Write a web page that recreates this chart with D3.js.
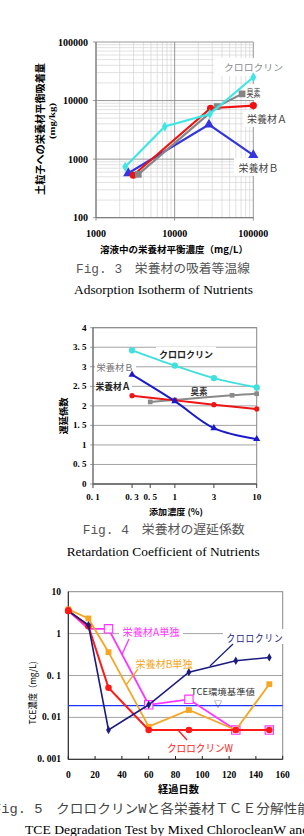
<!DOCTYPE html>
<html><head><meta charset="utf-8">
<script src="https://cdn.jsdelivr.net/npm/d3@7"></script>
<style>
body{margin:0;background:#fff;overflow:hidden;}
svg{display:block;}
</style></head><body>
<svg id="c" width="304" height="836"></svg>
<script>
// ---------------- Fig. 3 data ----------------
const f3Names = ["栄養材Ｂ", "栄養材Ａ", "臭素", "クロロクリン"];
const f3BX = [2570, 27300, 100000];
const f3BY = [575, 3900, 1170];
const f3AX = [2980, 28600, 100000];
const f3AY = [530, 7400, 8200];
const f3BromX = [3450, 34700, 72000];
const f3BromY = [550, 7900, 13000];
const f3ChloroX = [2350, 7500, 28000, 100000];
const f3ChloroY = [740, 3600, 5900, 25000];
const f3XTicks = [1000, 10000, 100000];
const f3YTicks = [100, 1000, 10000, 100000];

// ---------------- Fig. 4 data ----------------
const f4Names = ["クロロクリン", "栄養材Ｂ", "栄養材Ａ", "臭素"];
const f4X = [0.3, 1, 3, 10];
const f4Chloro = [3.42, 3.03, 2.71, 2.47];
const f4B = [2.80, 2.12, 1.43, 1.15];
const f4A = [2.26, 2.14, 2.03, 1.92];
const f4BromX = [0.5, 1, 5, 10];
const f4Brom = [2.10, 2.15, 2.27, 2.31];
const f4XTicks = [0.1, 0.3, 0.5, 1, 3, 10];
const f4XTickLabels = ["0. 1", "0. 3", "0. 5", "1", "3", "10"];
const f4YTicks = [0, 0.5, 1, 1.5, 2, 2.5, 3, 3.5, 4];
const f4YTickLabels = ["0", "0. 5", "1", "1. 5", "2", "2. 5", "3", "3. 5", "4"];

// ---------------- Fig. 5 data ----------------
const f5Names = ["栄養材A単独", "栄養材B単独", "クロロクリン", "クロロクリンW", "TCE環境基準値"];
const f5Days = [0, 15, 30, 60, 90, 125, 150];
const f5A = [3.5, 1.3, 1.3, 0.02, 0.027, 0.005, 0.005];
const f5B = [3.8, 2.3, 0.36, 0.006, 0.015, 0.005, 0.062];
const f5ChloroW = [3.5, 1.5, 0.051, 0.005, 0.005, 0.005, 0.005];
const f5Chloro = [3.5, 1.6, 0.005, 0.02, 0.12, 0.225, 0.27];
const f5Standard = 0.019;
const f5XTicks = [0, 20, 40, 60, 80, 100, 120, 140, 160];
const f5YTicks = [0.001, 0.01, 0.1, 1, 10];
const f5YTickLabels = ["0. 001", "0. 01", "0. 1", "1", "10"];

const svg = d3.select("#c");
const serif = "'Liberation Serif','Noto Sans CJK JP',serif";
const jp = "'Noto Sans CJK JP',sans-serif";
const mono = "'Liberation Mono','Noto Sans CJK JP',monospace";
const zip = (a, b) => a.map((v, i) => [v, b[i]]);

function txt(g, x, y, s, o = {}) {
  const t = g.append("text").attr("x", x).attr("y", y).text(s)
    .attr("font-family", o.ff || jp).attr("font-size", o.fs || 10)
    .attr("font-weight", o.fw || "normal").attr("fill", o.fill || "#000")
    .attr("text-anchor", o.anchor || "start").attr("dominant-baseline", "central");
  if (o.tl) t.attr("textLength", o.tl).attr("lengthAdjust", "spacingAndGlyphs");
  if (o.ls) t.attr("letter-spacing", o.ls);
  if (o.rot) t.attr("transform", `rotate(${o.rot},${x},${y})`);
  return t;
}
function bgLabel(g, x, y, w, h) {
  g.append("rect").attr("x", x).attr("y", y).attr("width", w).attr("height", h).attr("fill", "#fff");
}

// =============== Fig. 3 ===============
{
  const g = svg.append("g");
  const x = d3.scaleLog().domain([1000, 100000]).range([96, 253.3]);
  const y = d3.scaleLog().domain([100, 100000]).range([217.7, 42]);
  const xt = x.ticks(), yt = y.ticks();
  const minorX = xt.filter(d => !f3XTicks.includes(d)), minorY = yt.filter(d => !f3YTicks.includes(d));
  g.selectAll(".mx").data(minorX).join("line").attr("x1", d => x(d)).attr("x2", d => x(d))
    .attr("y1", y.range()[1]).attr("y2", y.range()[0]).attr("stroke", "#d4d4d4").attr("stroke-width", 0.7);
  g.selectAll(".my").data(minorY).join("line").attr("y1", d => y(d)).attr("y2", d => y(d))
    .attr("x1", x.range()[0]).attr("x2", x.range()[1]).attr("stroke", "#d4d4d4").attr("stroke-width", 0.7);
  g.selectAll(".Mx").data(f3XTicks).join("line").attr("x1", d => x(d)).attr("x2", d => x(d))
    .attr("y1", y.range()[1]).attr("y2", y.range()[0] + 3).attr("stroke", "#8c8c8c").attr("stroke-width", 0.9);
  g.selectAll(".My").data(f3YTicks).join("line").attr("y1", d => y(d)).attr("y2", d => y(d))
    .attr("x1", x.range()[0] - 3).attr("x2", x.range()[1]).attr("stroke", "#8c8c8c").attr("stroke-width", 0.9);
  g.append("line").attr("x1", 96).attr("x2", 96).attr("y1", 42).attr("y2", 217.7).attr("stroke", "#777");
  g.append("line").attr("x1", 96).attr("x2", 253.3).attr("y1", 217.7).attr("y2", 217.7).attr("stroke", "#777");

  // white boxes for labels (cover grid)
  bgLabel(g, 214, 58, 78, 18);
  bgLabel(g, 244, 84, 22, 16);
  bgLabel(g, 243, 110, 48, 17);
  bgLabel(g, 234, 158, 50, 18);

  const line = d3.line().x(d => x(d[0])).y(d => y(d[1]));
  const series = [
    { d: zip(f3BX, f3BY), c: "#3535dd", sym: d3.symbolTriangle, sz: 45 },
    { d: zip(f3AX, f3AY), c: "#ee1111", sym: d3.symbolCircle, sz: 40 },
    { d: zip(f3BromX, f3BromY), c: "#858585", sym: d3.symbolSquare, sz: 45 },
    { d: zip(f3ChloroX, f3ChloroY), c: "#40e6e6", sym: d3.symbolDiamond, sz: 30 }
  ];
  series.forEach(s => {
    g.append("path").attr("d", line(s.d)).attr("fill", "none").attr("stroke", s.c).attr("stroke-width", 2.2);
    g.selectAll(null).data(s.d).join("path").attr("d", d3.symbol().type(s.sym).size(s.sz))
      .attr("transform", d => `translate(${x(d[0])},${y(d[1])})`).attr("fill", s.c);
  });

  // tick labels
  f3YTicks.forEach(v => txt(g, 88, y(v), String(v), { ff: serif, fs: 10, fw: "bold", anchor: "end" }));
  f3XTicks.forEach(v => txt(g, x(v), 233, String(v), { ff: serif, fs: 10, fw: "bold", anchor: "middle" }));
  txt(g, 174, 249, "溶液中の栄養材平衡濃度（mg/L）", { fs: 9.5, fw: "bold", anchor: "middle", tl: 148 });
  txt(g, 39, 129, "土粒子への栄養材平衡吸着量", { fs: 10, fw: "bold", anchor: "middle", rot: -90, tl: 132 });
  txt(g, 52, 121, "(mg/kg)", { ff: serif, fs: 9, fw: "bold", anchor: "middle", rot: -90, tl: 36 });

  // series labels
  txt(g, 253.5, 67, f3Names[3], { fs: 9, fill: "#8a8a8a", anchor: "middle", tl: 59 });
  txt(g, 253.5, 92, f3Names[2], { fs: 10, fill: "#444", anchor: "middle", tl: 14 });
  txt(g, 267, 118.5, f3Names[1], { fs: 10, fill: "#444", anchor: "middle", tl: 40 });
  txt(g, 258.5, 167, f3Names[0], { fs: 10, fill: "#444", anchor: "middle", tl: 40 });

  txt(g, 76, 269.5, "Fig. 3　栄養材の吸着等温線", { ff: mono, fs: 12.5, fill: "#555", tl: 174 });
  txt(g, 74, 289.5, "Adsorption Isotherm of Nutrients", { ff: serif, fs: 13, tl: 179 });
}

// =============== Fig. 4 ===============
{
  const g = svg.append("g");
  const x = d3.scaleLog().domain([0.1, 10]).range([93, 256.7]);
  const y = d3.scaleLinear().domain([0, 4]).range([484, 327.7]);
  g.selectAll(".gy").data(f4YTicks).join("line").attr("y1", d => y(d)).attr("y2", d => y(d))
    .attr("x1", 90).attr("x2", 256.7).attr("stroke", "#999").attr("stroke-width", 0.9);
  g.append("rect").attr("x", 93).attr("y", 327.7).attr("width", 163.7).attr("height", 156.3)
    .attr("fill", "none").attr("stroke", "#888").attr("stroke-width", 1);
  g.append("line").attr("x1", 93).attr("x2", 256.7).attr("y1", 484).attr("y2", 484).attr("stroke", "#444");
  g.append("line").attr("x1", 93).attr("x2", 93).attr("y1", 327.7).attr("y2", 484).attr("stroke", "#666");
  g.selectAll(".tx").data(f4XTicks).join("line").attr("x1", d => x(d)).attr("x2", d => x(d))
    .attr("y1", 484).attr("y2", 488).attr("stroke", "#444");

  bgLabel(g, 95, 359, 41, 15);
  bgLabel(g, 95, 379, 37, 14);
  bgLabel(g, 156, 347, 60, 14);

  const line = d3.line().x(d => x(d[0])).y(d => y(d[1])).curve(d3.curveCatmullRom);
  const series = [
    { d: zip(f4BromX, f4Brom), c: "#8a8a8a", sym: d3.symbolSquare, sz: 22 },
    { d: zip(f4X, f4A), c: "#ee1515", sym: d3.symbolCircle, sz: 22 },
    { d: zip(f4X, f4B), c: "#1a1acc", sym: d3.symbolTriangle, sz: 22 },
    { d: zip(f4X, f4Chloro), c: "#40e0dc", sym: d3.symbolCircle, sz: 32 }
  ];
  series.forEach(s => {
    g.append("path").attr("d", line(s.d)).attr("fill", "none").attr("stroke", s.c).attr("stroke-width", 2);
    g.selectAll(null).data(s.d).join("path").attr("d", d3.symbol().type(s.sym).size(s.sz))
      .attr("transform", d => `translate(${x(d[0])},${y(d[1])})`).attr("fill", s.c);
  });

  f4YTicks.forEach((v, i) => txt(g, 86.5, y(v), f4YTickLabels[i], { ff: serif, fs: 9, fw: "bold", anchor: "end" }));
  f4XTicks.forEach((v, i) => txt(g, x(v), 497, f4XTickLabels[i], { ff: serif, fs: 9, fw: "bold", anchor: "middle" }));
  txt(g, 63, 416, "遅延係数", { fs: 9.5, fw: "bold", anchor: "middle", rot: -90, tl: 37 });
  txt(g, 176, 511, "添加濃度 (%)", { fs: 8.5, fw: "bold", anchor: "middle", tl: 54 });

  txt(g, 186, 354, f4Names[0], { fs: 9, fw: "bold", fill: "#222", anchor: "middle", tl: 54 });
  txt(g, 115, 367, f4Names[1], { fs: 9.5, fill: "#777", anchor: "middle", tl: 37 });
  txt(g, 113, 386, f4Names[2], { fs: 9.5, fw: "bold", fill: "#222", anchor: "middle", tl: 35 });
  txt(g, 199, 391.5, f4Names[3], { fs: 9, fw: "bold", fill: "#333", anchor: "middle", tl: 17 });

  txt(g, 82.7, 530.5, "Fig. 4　栄養材の遅延係数", { ff: mono, fs: 12.5, fill: "#555", tl: 162 });
  txt(g, 66.7, 551, "Retardation Coefficient of Nutrients", { ff: serif, fs: 13, tl: 193 });
}

// =============== Fig. 5 ===============
{
  const g = svg.append("g");
  const x = d3.scaleLinear().domain([0, 160]).range([68.3, 282.7]);
  const y = d3.scaleLog().domain([0.001, 10]).range([759.3, 591.7]);
  g.selectAll(".gy").data(f5YTicks.slice(1, 4)).join("line").attr("y1", d => y(d)).attr("y2", d => y(d))
    .attr("x1", 68.3).attr("x2", 282.7).attr("stroke", "#999").attr("stroke-width", 0.9);
  g.append("rect").attr("x", 68.3).attr("y", 591.7).attr("width", 214.4).attr("height", 167.6)
    .attr("fill", "none").attr("stroke", "#888").attr("stroke-width", 1);
  g.append("line").attr("x1", 68.3).attr("x2", 282.7).attr("y1", 759.3).attr("y2", 759.3).attr("stroke", "#222");
  g.append("line").attr("x1", 68.3).attr("x2", 68.3).attr("y1", 591.7).attr("y2", 759.3).attr("stroke", "#222");
  g.selectAll(".tx").data(f5XTicks).join("line").attr("x1", d => x(d)).attr("x2", d => x(d))
    .attr("y1", 759.3).attr("y2", 756).attr("stroke", "#222");

  // standard line
  g.append("line").attr("x1", 68.3).attr("x2", 282.7).attr("y1", y(f5Standard)).attr("y2", y(f5Standard))
    .attr("stroke", "#1a35ff").attr("stroke-width", 1.3);

  // label backgrounds
  bgLabel(g, 119, 624, 64, 15);
  bgLabel(g, 223, 629, 62, 15);

  const line = d3.line().x(d => x(d[0])).y(d => y(d[1]));
  const mag = "#ff33ff", ora = "#f5a623", red = "#ff1a1a", navy = "#1b1b80";
  // magenta first
  const dA = zip(f5Days, f5A);
  g.append("path").attr("d", line(dA)).attr("fill", "none").attr("stroke", mag).attr("stroke-width", 1.8);
  g.selectAll(null).data(dA.filter((d, i) => i >= 2)).join("path").attr("d", d3.symbol().type(d3.symbolSquare).size(70))
    .attr("transform", d => `translate(${x(d[0])},${y(d[1])})`).attr("fill", "#fff3ff").attr("stroke", mag).attr("stroke-width", 1.1);
  const dB = zip(f5Days, f5B);
  g.append("path").attr("d", line(dB)).attr("fill", "none").attr("stroke", ora).attr("stroke-width", 1.8);
  g.selectAll(null).data(dB).join("path").attr("d", d3.symbol().type(d3.symbolSquare).size(34))
    .attr("transform", d => `translate(${x(d[0])},${y(d[1])})`).attr("fill", ora);
  const dW = zip(f5Days, f5ChloroW);
  g.append("path").attr("d", line(dW)).attr("fill", "none").attr("stroke", red).attr("stroke-width", 2);
  g.selectAll(null).data(dW).join("path").attr("d", d3.symbol().type(d3.symbolCircle).size(34))
    .attr("transform", d => `translate(${x(d[0])},${y(d[1])})`).attr("fill", red);
  const dC = zip(f5Days, f5Chloro);
  g.append("path").attr("d", line(dC)).attr("fill", "none").attr("stroke", navy).attr("stroke-width", 1.6);
  g.selectAll(null).data(dC).join("path").attr("d", d3.symbol().type(d3.symbolDiamond).size(20))
    .attr("transform", d => `translate(${x(d[0])},${y(d[1])})`).attr("fill", navy);
  // big start dot
  g.append("circle").attr("cx", x(f5Days[0])).attr("cy", y(f5ChloroW[0])).attr("r", 3.5).attr("fill", red);

  // leader lines
  g.append("line").attr("x1", 121.7).attr("y1", 655).attr("x2", 129).attr("y2", 639).attr("stroke", mag).attr("stroke-width", 1.3);
  g.append("line").attr("x1", 126).attr("y1", 685).attr("x2", 138).attr("y2", 669).attr("stroke", ora).attr("stroke-width", 1.3);
  g.append("line").attr("x1", 210).attr("y1", 666).attr("x2", 233).attr("y2", 644).attr("stroke", navy).attr("stroke-width", 1.2);
  g.append("line").attr("x1", 178).attr("y1", 730).attr("x2", 187).attr("y2", 740).attr("stroke", red).attr("stroke-width", 1.3);

  f5YTicks.forEach((v, i) => txt(g, 61, y(v), f5YTickLabels[i], { ff: serif, fs: 9.5, fw: "bold", anchor: "end" }));
  f5XTicks.forEach(v => txt(g, x(v), 775, String(v), { ff: serif, fs: 9.5, fw: "bold", anchor: "middle" }));
  txt(g, 32, 693, "TCE濃度（mg/L)", { fs: 9, anchor: "middle", rot: -90, tl: 63 });
  txt(g, 178.5, 788, "経過日数", { fs: 10, fw: "bold", anchor: "middle", tl: 41 });

  txt(g, 151, 631.5, f5Names[0], { fs: 10, fill: mag, anchor: "middle", tl: 57 });
  txt(g, 164, 663.5, f5Names[1], { fs: 10, fill: ora, anchor: "middle", tl: 57 });
  txt(g, 255, 637, f5Names[2], { fs: 10, fill: navy, anchor: "middle", tl: 57, ls: 1 });
  txt(g, 200, 747, f5Names[3], { fs: 10, fill: red, anchor: "middle", tl: 66 });
  txt(g, 223, 690.5, f5Names[4], { fs: 8.5, fill: "#333", anchor: "middle", tl: 64 });
  txt(g, 218, 703, "▽", { fs: 8, fill: "#333", anchor: "middle" });

  txt(g, -7, 809, "Fig. 5　クロロクリンWと各栄養材ＴＣＥ分解性能", { ff: mono, fs: 13, fill: "#444", tl: 318 });
  txt(g, 25, 829, "TCE Degradation Test by Mixed ChlorocleanW and", { ff: serif, fs: 13, tl: 284 });
}
</script>
</body></html>
